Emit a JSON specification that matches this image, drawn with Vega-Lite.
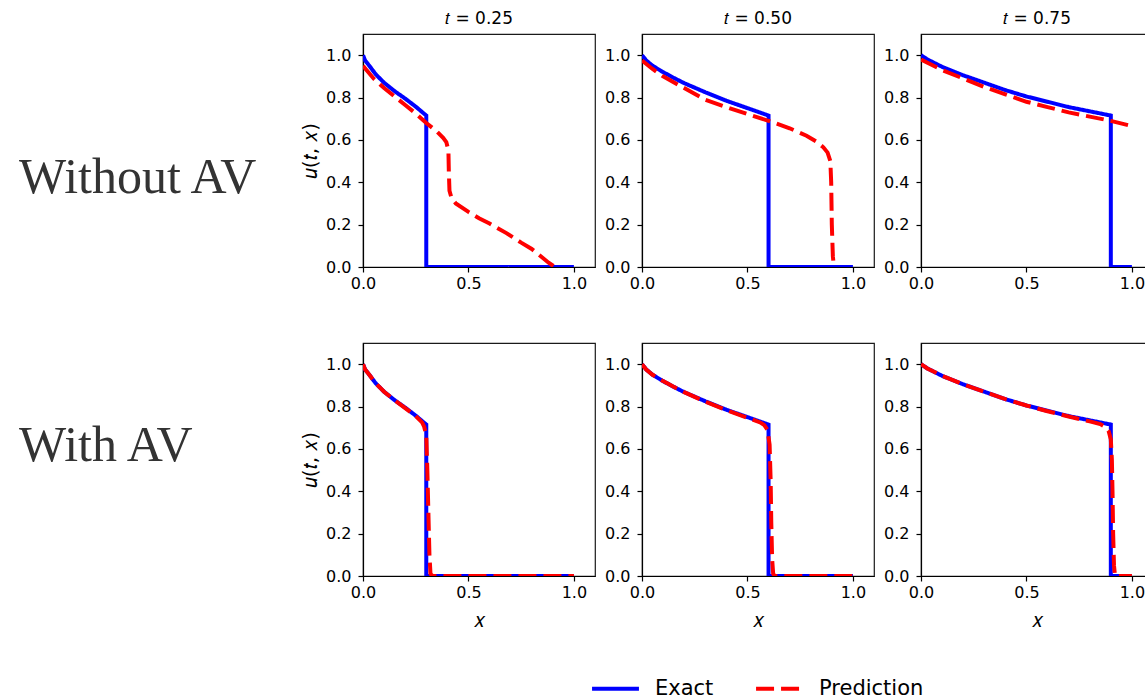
{
"$schema": "https://vega.github.io/schema/vega-lite/v6.json",
"padding": {"left": 18, "top": 9, "right": 0, "bottom": 0},
"background": "white",
"datasets": {
"d": [
{"row":"both","t":"0.25","series":"Exact","i":0,"x":0,"u":1.0},
{"row":"both","t":"0.25","series":"Exact","i":1,"x":0.01,"u":0.975},
{"row":"both","t":"0.25","series":"Exact","i":2,"x":0.03,"u":0.95},
{"row":"both","t":"0.25","series":"Exact","i":3,"x":0.06,"u":0.91},
{"row":"both","t":"0.25","series":"Exact","i":4,"x":0.1,"u":0.87},
{"row":"both","t":"0.25","series":"Exact","i":5,"x":0.15,"u":0.83},
{"row":"both","t":"0.25","series":"Exact","i":6,"x":0.2,"u":0.795},
{"row":"both","t":"0.25","series":"Exact","i":7,"x":0.25,"u":0.757},
{"row":"both","t":"0.25","series":"Exact","i":8,"x":0.3,"u":0.715},
{"row":"both","t":"0.25","series":"Exact","i":9,"x":0.3,"u":0},
{"row":"both","t":"0.25","series":"Exact","i":10,"x":1.0,"u":0},
{"row":"both","t":"0.50","series":"Exact","i":0,"x":0,"u":1.0},
{"row":"both","t":"0.50","series":"Exact","i":1,"x":0.02,"u":0.975},
{"row":"both","t":"0.50","series":"Exact","i":2,"x":0.05,"u":0.95},
{"row":"both","t":"0.50","series":"Exact","i":3,"x":0.1,"u":0.92},
{"row":"both","t":"0.50","series":"Exact","i":4,"x":0.15,"u":0.893},
{"row":"both","t":"0.50","series":"Exact","i":5,"x":0.2,"u":0.868},
{"row":"both","t":"0.50","series":"Exact","i":6,"x":0.3,"u":0.825},
{"row":"both","t":"0.50","series":"Exact","i":7,"x":0.4,"u":0.785},
{"row":"both","t":"0.50","series":"Exact","i":8,"x":0.5,"u":0.75},
{"row":"both","t":"0.50","series":"Exact","i":9,"x":0.6,"u":0.715},
{"row":"both","t":"0.50","series":"Exact","i":10,"x":0.6,"u":0},
{"row":"both","t":"0.50","series":"Exact","i":11,"x":1.0,"u":0},
{"row":"both","t":"0.75","series":"Exact","i":0,"x":0,"u":1.0},
{"row":"both","t":"0.75","series":"Exact","i":1,"x":0.03,"u":0.98},
{"row":"both","t":"0.75","series":"Exact","i":2,"x":0.1,"u":0.945},
{"row":"both","t":"0.75","series":"Exact","i":3,"x":0.2,"u":0.905},
{"row":"both","t":"0.75","series":"Exact","i":4,"x":0.3,"u":0.87},
{"row":"both","t":"0.75","series":"Exact","i":5,"x":0.4,"u":0.835},
{"row":"both","t":"0.75","series":"Exact","i":6,"x":0.5,"u":0.805},
{"row":"both","t":"0.75","series":"Exact","i":7,"x":0.6,"u":0.78},
{"row":"both","t":"0.75","series":"Exact","i":8,"x":0.7,"u":0.755},
{"row":"both","t":"0.75","series":"Exact","i":9,"x":0.8,"u":0.735},
{"row":"both","t":"0.75","series":"Exact","i":10,"x":0.9,"u":0.715},
{"row":"both","t":"0.75","series":"Exact","i":11,"x":0.9,"u":0},
{"row":"both","t":"0.75","series":"Exact","i":12,"x":1.0,"u":0},

{"row":"Without AV","t":"0.25","series":"Prediction","i":0,"x":0,"u":0.95},
{"row":"Without AV","t":"0.25","series":"Prediction","i":1,"x":0.05,"u":0.89},
{"row":"Without AV","t":"0.25","series":"Prediction","i":2,"x":0.1,"u":0.845},
{"row":"Without AV","t":"0.25","series":"Prediction","i":3,"x":0.15,"u":0.805},
{"row":"Without AV","t":"0.25","series":"Prediction","i":4,"x":0.2,"u":0.765},
{"row":"Without AV","t":"0.25","series":"Prediction","i":5,"x":0.25,"u":0.725},
{"row":"Without AV","t":"0.25","series":"Prediction","i":6,"x":0.3,"u":0.68},
{"row":"Without AV","t":"0.25","series":"Prediction","i":7,"x":0.35,"u":0.64},
{"row":"Without AV","t":"0.25","series":"Prediction","i":8,"x":0.38,"u":0.61},
{"row":"Without AV","t":"0.25","series":"Prediction","i":9,"x":0.395,"u":0.59},
{"row":"Without AV","t":"0.25","series":"Prediction","i":10,"x":0.405,"u":0.55},
{"row":"Without AV","t":"0.25","series":"Prediction","i":11,"x":0.407,"u":0.45},
{"row":"Without AV","t":"0.25","series":"Prediction","i":12,"x":0.41,"u":0.36},
{"row":"Without AV","t":"0.25","series":"Prediction","i":13,"x":0.42,"u":0.325},
{"row":"Without AV","t":"0.25","series":"Prediction","i":14,"x":0.44,"u":0.3},
{"row":"Without AV","t":"0.25","series":"Prediction","i":15,"x":0.5,"u":0.26},
{"row":"Without AV","t":"0.25","series":"Prediction","i":16,"x":0.55,"u":0.23},
{"row":"Without AV","t":"0.25","series":"Prediction","i":17,"x":0.6,"u":0.205},
{"row":"Without AV","t":"0.25","series":"Prediction","i":18,"x":0.68,"u":0.16},
{"row":"Without AV","t":"0.25","series":"Prediction","i":19,"x":0.75,"u":0.115},
{"row":"Without AV","t":"0.25","series":"Prediction","i":20,"x":0.8,"u":0.085},
{"row":"Without AV","t":"0.25","series":"Prediction","i":21,"x":0.85,"u":0.045},
{"row":"Without AV","t":"0.25","series":"Prediction","i":22,"x":0.88,"u":0.02},
{"row":"Without AV","t":"0.25","series":"Prediction","i":23,"x":0.91,"u":0},

{"row":"Without AV","t":"0.50","series":"Prediction","i":0,"x":0,"u":0.975},
{"row":"Without AV","t":"0.50","series":"Prediction","i":1,"x":0.05,"u":0.935},
{"row":"Without AV","t":"0.50","series":"Prediction","i":2,"x":0.1,"u":0.9},
{"row":"Without AV","t":"0.50","series":"Prediction","i":3,"x":0.2,"u":0.845},
{"row":"Without AV","t":"0.50","series":"Prediction","i":4,"x":0.3,"u":0.79},
{"row":"Without AV","t":"0.50","series":"Prediction","i":5,"x":0.4,"u":0.755},
{"row":"Without AV","t":"0.50","series":"Prediction","i":6,"x":0.5,"u":0.722},
{"row":"Without AV","t":"0.50","series":"Prediction","i":7,"x":0.6,"u":0.69},
{"row":"Without AV","t":"0.50","series":"Prediction","i":8,"x":0.7,"u":0.655},
{"row":"Without AV","t":"0.50","series":"Prediction","i":9,"x":0.78,"u":0.62},
{"row":"Without AV","t":"0.50","series":"Prediction","i":10,"x":0.83,"u":0.59},
{"row":"Without AV","t":"0.50","series":"Prediction","i":11,"x":0.86,"u":0.565},
{"row":"Without AV","t":"0.50","series":"Prediction","i":12,"x":0.88,"u":0.54},
{"row":"Without AV","t":"0.50","series":"Prediction","i":13,"x":0.893,"u":0.5},
{"row":"Without AV","t":"0.50","series":"Prediction","i":14,"x":0.897,"u":0.4},
{"row":"Without AV","t":"0.50","series":"Prediction","i":15,"x":0.9,"u":0.2},
{"row":"Without AV","t":"0.50","series":"Prediction","i":16,"x":0.905,"u":0.05},
{"row":"Without AV","t":"0.50","series":"Prediction","i":17,"x":0.91,"u":0},

{"row":"Without AV","t":"0.75","series":"Prediction","i":0,"x":0,"u":0.98},
{"row":"Without AV","t":"0.75","series":"Prediction","i":1,"x":0.1,"u":0.93},
{"row":"Without AV","t":"0.75","series":"Prediction","i":2,"x":0.2,"u":0.89},
{"row":"Without AV","t":"0.75","series":"Prediction","i":3,"x":0.3,"u":0.85},
{"row":"Without AV","t":"0.75","series":"Prediction","i":4,"x":0.4,"u":0.815},
{"row":"Without AV","t":"0.75","series":"Prediction","i":5,"x":0.5,"u":0.78},
{"row":"Without AV","t":"0.75","series":"Prediction","i":6,"x":0.6,"u":0.755},
{"row":"Without AV","t":"0.75","series":"Prediction","i":7,"x":0.7,"u":0.73},
{"row":"Without AV","t":"0.75","series":"Prediction","i":8,"x":0.8,"u":0.71},
{"row":"Without AV","t":"0.75","series":"Prediction","i":9,"x":0.9,"u":0.69},
{"row":"Without AV","t":"0.75","series":"Prediction","i":10,"x":1.0,"u":0.665},

{"row":"With AV","t":"0.25","series":"Prediction","i":0,"x":0,"u":1.0},
{"row":"With AV","t":"0.25","series":"Prediction","i":1,"x":0.01,"u":0.975},
{"row":"With AV","t":"0.25","series":"Prediction","i":2,"x":0.03,"u":0.95},
{"row":"With AV","t":"0.25","series":"Prediction","i":3,"x":0.06,"u":0.91},
{"row":"With AV","t":"0.25","series":"Prediction","i":4,"x":0.1,"u":0.87},
{"row":"With AV","t":"0.25","series":"Prediction","i":5,"x":0.15,"u":0.83},
{"row":"With AV","t":"0.25","series":"Prediction","i":6,"x":0.2,"u":0.793},
{"row":"With AV","t":"0.25","series":"Prediction","i":7,"x":0.25,"u":0.755},
{"row":"With AV","t":"0.25","series":"Prediction","i":8,"x":0.28,"u":0.725},
{"row":"With AV","t":"0.25","series":"Prediction","i":9,"x":0.29,"u":0.705},
{"row":"With AV","t":"0.25","series":"Prediction","i":10,"x":0.3,"u":0.665},
{"row":"With AV","t":"0.25","series":"Prediction","i":11,"x":0.305,"u":0.5},
{"row":"With AV","t":"0.25","series":"Prediction","i":12,"x":0.31,"u":0.3},
{"row":"With AV","t":"0.25","series":"Prediction","i":13,"x":0.315,"u":0.1},
{"row":"With AV","t":"0.25","series":"Prediction","i":14,"x":0.32,"u":0.01},
{"row":"With AV","t":"0.25","series":"Prediction","i":15,"x":0.33,"u":0},
{"row":"With AV","t":"0.25","series":"Prediction","i":16,"x":1.0,"u":0},

{"row":"With AV","t":"0.50","series":"Prediction","i":0,"x":0,"u":1.0},
{"row":"With AV","t":"0.50","series":"Prediction","i":1,"x":0.02,"u":0.975},
{"row":"With AV","t":"0.50","series":"Prediction","i":2,"x":0.05,"u":0.95},
{"row":"With AV","t":"0.50","series":"Prediction","i":3,"x":0.1,"u":0.92},
{"row":"With AV","t":"0.50","series":"Prediction","i":4,"x":0.15,"u":0.893},
{"row":"With AV","t":"0.50","series":"Prediction","i":5,"x":0.2,"u":0.868},
{"row":"With AV","t":"0.50","series":"Prediction","i":6,"x":0.3,"u":0.823},
{"row":"With AV","t":"0.50","series":"Prediction","i":7,"x":0.4,"u":0.783},
{"row":"With AV","t":"0.50","series":"Prediction","i":8,"x":0.5,"u":0.747},
{"row":"With AV","t":"0.50","series":"Prediction","i":9,"x":0.56,"u":0.725},
{"row":"With AV","t":"0.50","series":"Prediction","i":10,"x":0.58,"u":0.712},
{"row":"With AV","t":"0.50","series":"Prediction","i":11,"x":0.595,"u":0.69},
{"row":"With AV","t":"0.50","series":"Prediction","i":12,"x":0.605,"u":0.62},
{"row":"With AV","t":"0.50","series":"Prediction","i":13,"x":0.61,"u":0.45},
{"row":"With AV","t":"0.50","series":"Prediction","i":14,"x":0.613,"u":0.25},
{"row":"With AV","t":"0.50","series":"Prediction","i":15,"x":0.617,"u":0.08},
{"row":"With AV","t":"0.50","series":"Prediction","i":16,"x":0.622,"u":0.01},
{"row":"With AV","t":"0.50","series":"Prediction","i":17,"x":0.63,"u":0},
{"row":"With AV","t":"0.50","series":"Prediction","i":18,"x":1.0,"u":0},

{"row":"With AV","t":"0.75","series":"Prediction","i":0,"x":0,"u":1.0},
{"row":"With AV","t":"0.75","series":"Prediction","i":1,"x":0.03,"u":0.98},
{"row":"With AV","t":"0.75","series":"Prediction","i":2,"x":0.1,"u":0.945},
{"row":"With AV","t":"0.75","series":"Prediction","i":3,"x":0.2,"u":0.905},
{"row":"With AV","t":"0.75","series":"Prediction","i":4,"x":0.3,"u":0.87},
{"row":"With AV","t":"0.75","series":"Prediction","i":5,"x":0.4,"u":0.835},
{"row":"With AV","t":"0.75","series":"Prediction","i":6,"x":0.5,"u":0.805},
{"row":"With AV","t":"0.75","series":"Prediction","i":7,"x":0.6,"u":0.778},
{"row":"With AV","t":"0.75","series":"Prediction","i":8,"x":0.7,"u":0.753},
{"row":"With AV","t":"0.75","series":"Prediction","i":9,"x":0.8,"u":0.73},
{"row":"With AV","t":"0.75","series":"Prediction","i":10,"x":0.85,"u":0.717},
{"row":"With AV","t":"0.75","series":"Prediction","i":11,"x":0.875,"u":0.703},
{"row":"With AV","t":"0.75","series":"Prediction","i":12,"x":0.89,"u":0.683},
{"row":"With AV","t":"0.75","series":"Prediction","i":13,"x":0.9,"u":0.645},
{"row":"With AV","t":"0.75","series":"Prediction","i":14,"x":0.905,"u":0.55},
{"row":"With AV","t":"0.75","series":"Prediction","i":15,"x":0.908,"u":0.4},
{"row":"With AV","t":"0.75","series":"Prediction","i":16,"x":0.911,"u":0.2},
{"row":"With AV","t":"0.75","series":"Prediction","i":17,"x":0.915,"u":0.05},
{"row":"With AV","t":"0.75","series":"Prediction","i":18,"x":0.92,"u":0},
{"row":"With AV","t":"0.75","series":"Prediction","i":19,"x":1.0,"u":0}
]
},
"spacing": 345,
"bounds": "flush",
"hconcat": [
{
"spacing": 76,
"bounds": "flush",
"vconcat": [
{"width": 2, "height": 233, "view": {"stroke": null},
 "data": {"values": [{"label": "Without AV"}]},
 "mark": {"type": "text", "font": "Liberation Serif", "fontSize": 50, "color": "#333333", "align": "left", "baseline": "alphabetic", "dy": 42},
 "encoding": {"text": {"field": "label", "type": "nominal"}}},
{"width": 2, "height": 233, "view": {"stroke": null},
 "data": {"values": [{"label": "With AV"}]},
 "mark": {"type": "text", "font": "Liberation Serif", "fontSize": 50, "color": "#333333", "align": "left", "baseline": "alphabetic", "dy": 1},
 "encoding": {"text": {"field": "label", "type": "nominal"}}}
]
},
{
"columns": 3,
"spacing": {"row": 76, "column": 47},
"bounds": "flush",
"concat": [
{"width": 232, "height": 233, "title": "𝑡 = 0.25", "data": {"name": "d"},
 "transform": [{"filter": "datum.t == '0.25' && (datum.row == 'Without AV' || datum.row == 'both')"}],
 "mark": {"type": "line", "strokeWidth": 4, "clip": true},
 "encoding": {
  "x": {"field": "x", "type": "quantitative", "scale": {"domain": [0, 1.1], "nice": false}, "axis": {"title": null, "values": [0, 0.5, 1.0], "format": ".1f"}},
  "y": {"field": "u", "type": "quantitative", "scale": {"domain": [0, 1.1], "nice": false}, "axis": {"title": "𝑢(𝑡, 𝑥)", "values": [0, 0.2, 0.4, 0.6, 0.8, 1.0], "format": ".1f"}},
  "color": {"field": "series", "type": "nominal", "scale": {"domain": ["Exact", "Prediction"], "range": ["#0000ff", "#ff0000"]}, "legend": {"title": null}},
  "strokeDash": {"field": "series", "type": "nominal", "scale": {"domain": ["Exact", "Prediction"], "range": [[1, 0], [18, 7]]}, "legend": {"title": null}},
  "order": {"field": "i", "type": "quantitative"}}},
{"width": 232, "height": 233, "title": "𝑡 = 0.50", "data": {"name": "d"},
 "transform": [{"filter": "datum.t == '0.50' && (datum.row == 'Without AV' || datum.row == 'both')"}],
 "mark": {"type": "line", "strokeWidth": 4, "clip": true},
 "encoding": {
  "x": {"field": "x", "type": "quantitative", "scale": {"domain": [0, 1.1], "nice": false}, "axis": {"title": null, "values": [0, 0.5, 1.0], "format": ".1f"}},
  "y": {"field": "u", "type": "quantitative", "scale": {"domain": [0, 1.1], "nice": false}, "axis": {"title": null, "values": [0, 0.2, 0.4, 0.6, 0.8, 1.0], "format": ".1f"}},
  "color": {"field": "series", "type": "nominal", "scale": {"domain": ["Exact", "Prediction"], "range": ["#0000ff", "#ff0000"]}, "legend": {"title": null}},
  "strokeDash": {"field": "series", "type": "nominal", "scale": {"domain": ["Exact", "Prediction"], "range": [[1, 0], [18, 7]]}, "legend": {"title": null}},
  "order": {"field": "i", "type": "quantitative"}}},
{"width": 232, "height": 233, "title": "𝑡 = 0.75", "data": {"name": "d"},
 "transform": [{"filter": "datum.t == '0.75' && (datum.row == 'Without AV' || datum.row == 'both')"}],
 "mark": {"type": "line", "strokeWidth": 4, "clip": true},
 "encoding": {
  "x": {"field": "x", "type": "quantitative", "scale": {"domain": [0, 1.1], "nice": false}, "axis": {"title": null, "values": [0, 0.5, 1.0], "format": ".1f"}},
  "y": {"field": "u", "type": "quantitative", "scale": {"domain": [0, 1.1], "nice": false}, "axis": {"title": null, "values": [0, 0.2, 0.4, 0.6, 0.8, 1.0], "format": ".1f"}},
  "color": {"field": "series", "type": "nominal", "scale": {"domain": ["Exact", "Prediction"], "range": ["#0000ff", "#ff0000"]}, "legend": {"title": null}},
  "strokeDash": {"field": "series", "type": "nominal", "scale": {"domain": ["Exact", "Prediction"], "range": [[1, 0], [18, 7]]}, "legend": {"title": null}},
  "order": {"field": "i", "type": "quantitative"}}},
{"width": 232, "height": 233, "data": {"name": "d"},
 "transform": [{"filter": "datum.t == '0.25' && (datum.row == 'With AV' || datum.row == 'both')"}],
 "mark": {"type": "line", "strokeWidth": 4, "clip": true},
 "encoding": {
  "x": {"field": "x", "type": "quantitative", "scale": {"domain": [0, 1.1], "nice": false}, "axis": {"title": "𝑥", "values": [0, 0.5, 1.0], "format": ".1f"}},
  "y": {"field": "u", "type": "quantitative", "scale": {"domain": [0, 1.1], "nice": false}, "axis": {"title": "𝑢(𝑡, 𝑥)", "values": [0, 0.2, 0.4, 0.6, 0.8, 1.0], "format": ".1f"}},
  "color": {"field": "series", "type": "nominal", "scale": {"domain": ["Exact", "Prediction"], "range": ["#0000ff", "#ff0000"]}, "legend": {"title": null}},
  "strokeDash": {"field": "series", "type": "nominal", "scale": {"domain": ["Exact", "Prediction"], "range": [[1, 0], [18, 7]]}, "legend": {"title": null}},
  "order": {"field": "i", "type": "quantitative"}}},
{"width": 232, "height": 233, "data": {"name": "d"},
 "transform": [{"filter": "datum.t == '0.50' && (datum.row == 'With AV' || datum.row == 'both')"}],
 "mark": {"type": "line", "strokeWidth": 4, "clip": true},
 "encoding": {
  "x": {"field": "x", "type": "quantitative", "scale": {"domain": [0, 1.1], "nice": false}, "axis": {"title": "𝑥", "values": [0, 0.5, 1.0], "format": ".1f"}},
  "y": {"field": "u", "type": "quantitative", "scale": {"domain": [0, 1.1], "nice": false}, "axis": {"title": null, "values": [0, 0.2, 0.4, 0.6, 0.8, 1.0], "format": ".1f"}},
  "color": {"field": "series", "type": "nominal", "scale": {"domain": ["Exact", "Prediction"], "range": ["#0000ff", "#ff0000"]}, "legend": {"title": null}},
  "strokeDash": {"field": "series", "type": "nominal", "scale": {"domain": ["Exact", "Prediction"], "range": [[1, 0], [18, 7]]}, "legend": {"title": null}},
  "order": {"field": "i", "type": "quantitative"}}},
{"width": 232, "height": 233, "data": {"name": "d"},
 "transform": [{"filter": "datum.t == '0.75' && (datum.row == 'With AV' || datum.row == 'both')"}],
 "mark": {"type": "line", "strokeWidth": 4, "clip": true},
 "encoding": {
  "x": {"field": "x", "type": "quantitative", "scale": {"domain": [0, 1.1], "nice": false}, "axis": {"title": "𝑥", "values": [0, 0.5, 1.0], "format": ".1f"}},
  "y": {"field": "u", "type": "quantitative", "scale": {"domain": [0, 1.1], "nice": false}, "axis": {"title": null, "values": [0, 0.2, 0.4, 0.6, 0.8, 1.0], "format": ".1f"}},
  "color": {"field": "series", "type": "nominal", "scale": {"domain": ["Exact", "Prediction"], "range": ["#0000ff", "#ff0000"]}, "legend": {"title": null}},
  "strokeDash": {"field": "series", "type": "nominal", "scale": {"domain": ["Exact", "Prediction"], "range": [[1, 0], [18, 7]]}, "legend": {"title": null}},
  "order": {"field": "i", "type": "quantitative"}}}
]
}
],
"config": {
 "font": "DejaVu Sans",
 "view": {"stroke": "#1a1a1a", "strokeWidth": 1.2},
 "axis": {"domainColor": "#000000", "domainWidth": 1.2, "tickColor": "#000000", "tickWidth": 1.2, "tickSize": 5, "labelColor": "#000000", "labelFont": "DejaVu Sans", "labelFontSize": 16, "labelFlush": false, "labelOverlap": false, "grid": false, "titleFont": "DejaVu Sans", "titleFontSize": 20, "titleFontWeight": "normal", "titleColor": "#000000"},
 "axisX": {"labelPadding": 3, "titlePadding": 10},
 "axisY": {"labelPadding": 7, "titlePadding": 5},
 "title": {"font": "DejaVu Sans", "fontSize": 17, "fontWeight": "normal", "color": "#000000", "offset": 6},
 "legend": {"orient": "none", "legendX": 572, "legendY": 629, "direction": "horizontal", "symbolType": "stroke", "symbolSize": 2200, "symbolStrokeWidth": 4, "labelFont": "DejaVu Sans", "labelFontSize": 21, "labelColor": "#000000", "labelOffset": 14, "columnPadding": 34, "padding": 0}
}
}
